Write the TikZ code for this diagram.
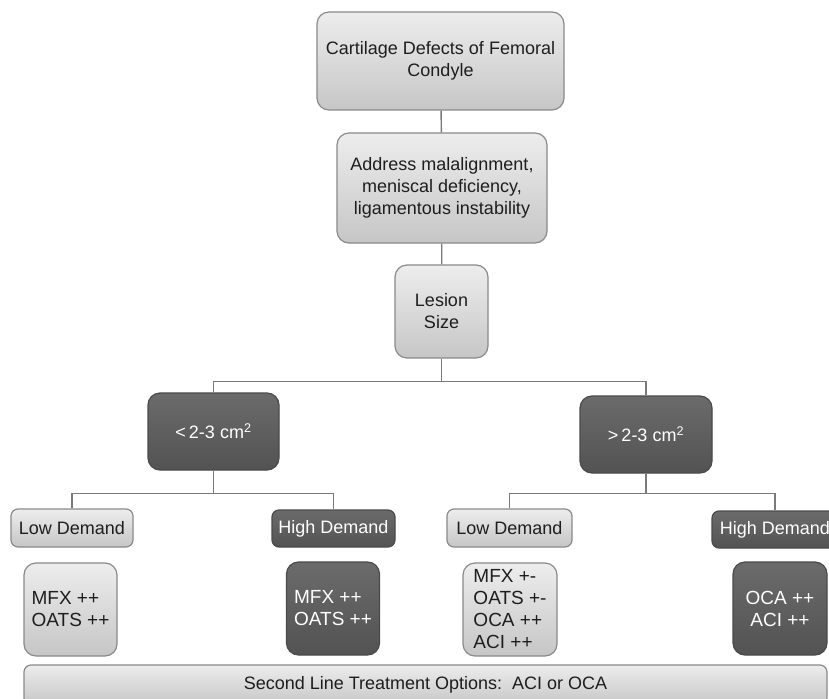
\documentclass[tikz,border=0pt]{standalone}
\usepackage{fontspec}
\setmainfont{Liberation Sans}
\usepackage{tikz}
\usetikzlibrary{positioning,calc}
\definecolor{LesionInk}{HTML}{1E1E1E}
\definecolor{LesionEdge}{HTML}{8A8A8A}
\definecolor{LesionTop}{HTML}{EDEDED}
\definecolor{LesionBottom}{HTML}{C6C6C6}
\definecolor{LesionDark}{HTML}{5E5E5E}
\definecolor{LesionDarkEdge}{HTML}{4A4A4A}
\definecolor{LesionLine}{HTML}{7A7A7A}

\begin{document}
\begin{tikzpicture}[
  x=1pt,y=-1pt,
  box/.style={
    rounded corners=12pt,align=center,inner sep=2pt,
    font=\fontsize{18}{22}\selectfont,line width=1.2pt
  },
  lightbox/.style={box,draw=LesionEdge,top color=LesionTop,
    bottom color=LesionBottom,text=LesionInk},
  darkbox/.style={box,draw=LesionDarkEdge,top color=LesionDark!92!white,
    bottom color=LesionDark!88!black,text=white},
  optbox/.style={font=\fontsize{19}{22}\selectfont,
    minimum width=93pt,minimum height=93pt},
  link/.style={draw=LesionLine,line width=1.4pt}
]
  \useasboundingbox (0,0) rectangle (829,698);
  \fill[white] (0,0) rectangle (829,698);

  % main column
  \node[lightbox,minimum width=247pt,minimum height=98pt] (defect) at (440.5,61)
    {Cartilage Defects of Femoral\\Condyle};
  \node[lightbox,minimum width=210pt,minimum height=110pt] (address) at (442,188)
    {Address malalignment,\\meniscal deficiency,\\ligamentous instability};
  \node[lightbox,minimum width=93pt,minimum height=93pt] (lesion) at (441.5,311.5)
    {Lesion\\Size};

  % size split
  \node[darkbox,minimum width=131pt,minimum height=77pt] (small) at (213.5,431.5)
    {<\,2-3 cm\textsuperscript{2}};
  \node[darkbox,minimum width=132pt,minimum height=77pt] (large) at (646,434.5)
    {>\,2-3 cm\textsuperscript{2}};

  % demand
  \node[lightbox,rounded corners=7pt,minimum width=122pt,minimum height=38pt] (lowA) at (72,528)
    {Low Demand};
  \node[darkbox,rounded corners=7pt,minimum width=123pt,minimum height=37pt] (highA) at (333.5,528.5)
    {High Demand};
  \node[lightbox,rounded corners=7pt,minimum width=125pt,minimum height=38pt] (lowB) at (509.5,528)
    {Low Demand};
  \node[darkbox,rounded corners=7pt,minimum width=126pt,minimum height=37pt] (highB) at (775,529.5)
    {High Demand};

  % options
  \node[lightbox,optbox,align=left] (optA) at (70.5,609.5)
    {MFX ++\\OATS ++};
  \node[darkbox,optbox,align=left] (optB) at (333,608.5)
    {MFX ++\\OATS ++};
  \node[lightbox,optbox,align=left,minimum width=94pt] (optC) at (510,609.5)
    {MFX +-\\OATS +-\\OCA ++\\ACI ++};
  \node[darkbox,optbox,minimum width=94pt] (optD) at (780,608.5)
    {OCA ++\\ACI ++};

  \node[lightbox,rounded corners=7pt,minimum width=803pt,minimum height=40pt] (second) at (425.5,685)
    {Second Line Treatment Options:\ \ ACI or OCA};

  % tree
  \draw[link] (defect) -- (address);
  \draw[link] (address) -- (lesion);
  \draw[link] (lesion.south) -- ++(0,23) -| (small.north);
  \draw[link] (lesion.south) -- ++(0,23) -| (large.north);
  \draw[link] (small.south) -- ++(0,23) -| (lowA.north);
  \draw[link] (small.south) -- ++(0,23) -| (highA.north);
  \draw[link] (large.south) -- ++(0,20) -| (lowB.north);
  \draw[link] (large.south) -- ++(0,20) -| (highB.north);
\end{tikzpicture}
\end{document}
